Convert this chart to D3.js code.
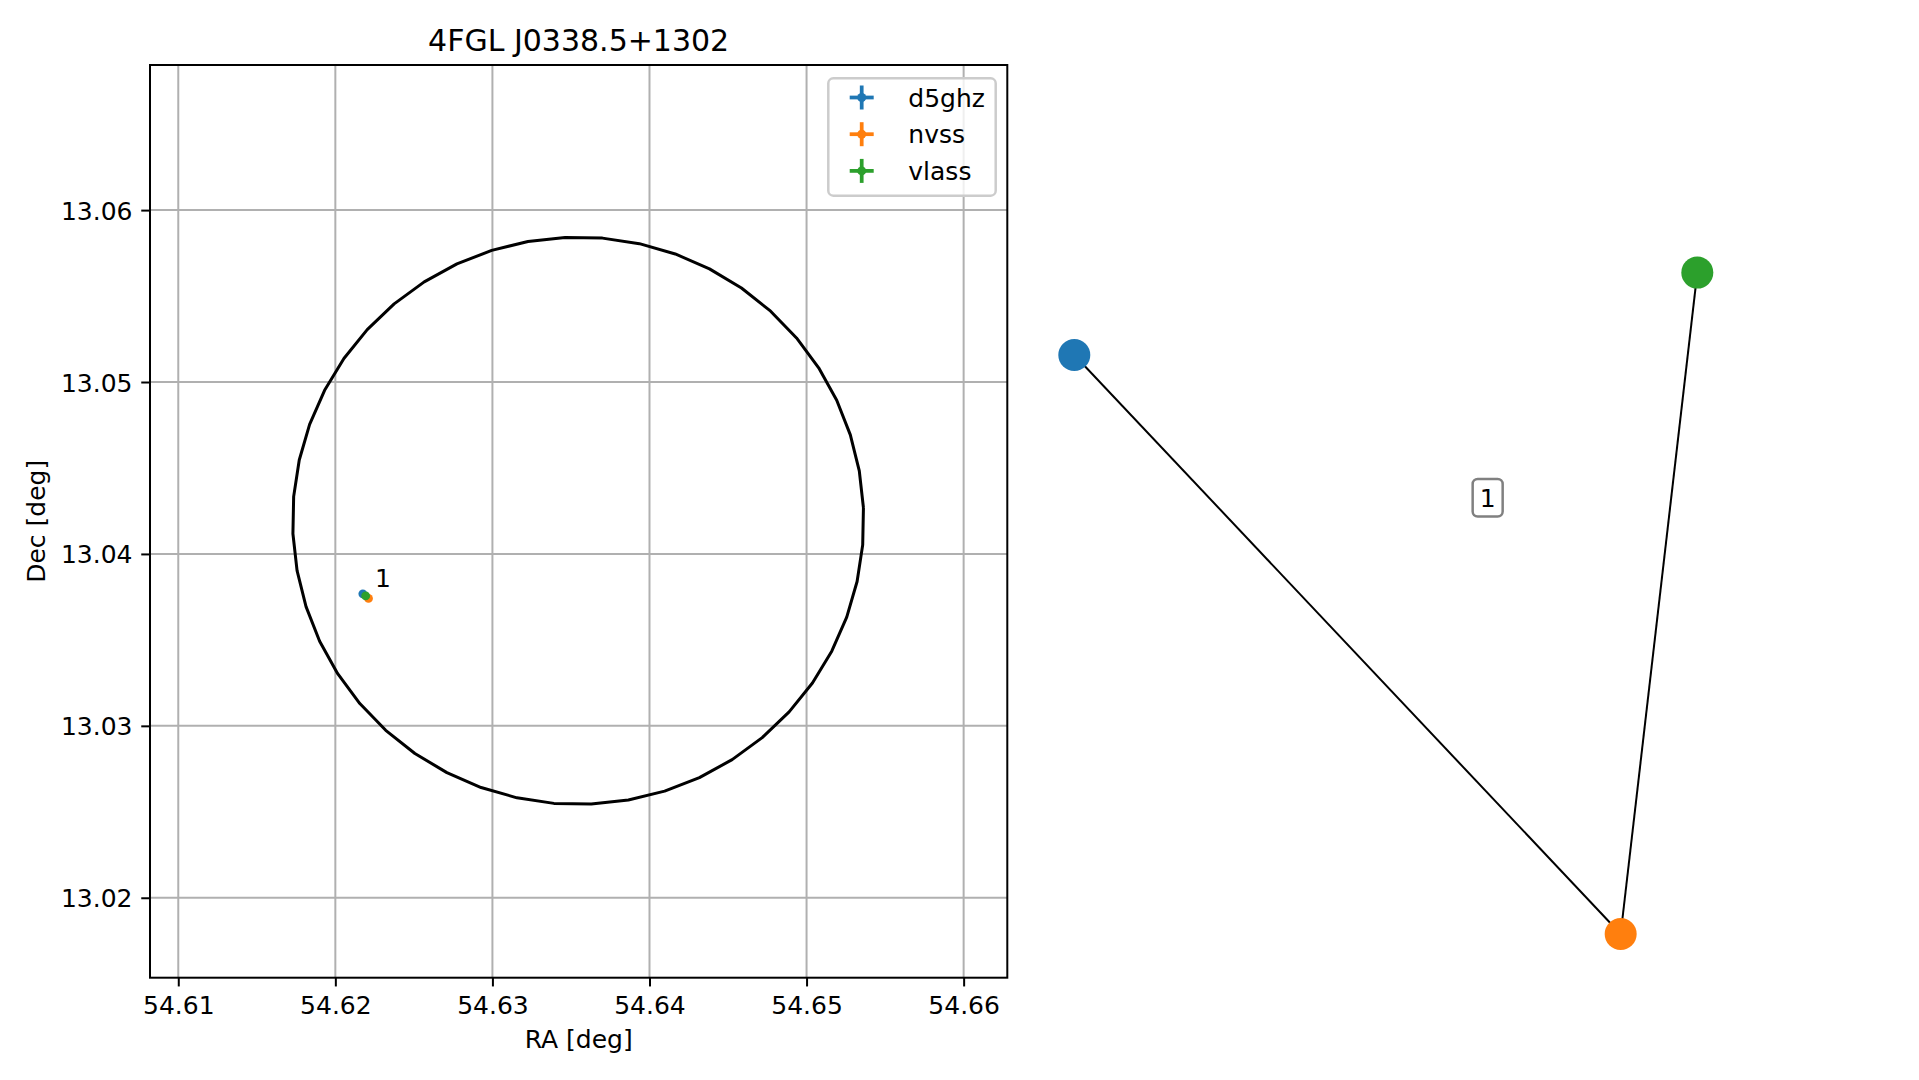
<!DOCTYPE html>
<html>
<head>
<meta charset="utf-8">
<script src="https://cdn.jsdelivr.net/npm/d3@7"></script>
<style>
  html, body { margin: 0; padding: 0; background: #fff; }
  svg { display: block; font-family: "DejaVu Sans", sans-serif; }
</style>
</head>
<body>
<svg id="chart" width="1919" height="1080"></svg>
<script>
// ---------------- DATA ----------------
const title = "4FGL J0338.5+1302";
const xTicks = [54.61, 54.62, 54.63, 54.64, 54.65, 54.66];
const yTicks = [13.02, 13.03, 13.04, 13.05, 13.06];
const xDomain = [54.6082, 54.66278];
const yDomain = [13.01535, 13.06844];

const surveys = ["d5ghz", "nvss", "vlass"];
const surveyColors = ["#1f77b4", "#ff7f0e", "#2ca02c"];
const pointRA = [54.62175, 54.62211, 54.62193];
const pointDec = [13.03768, 13.03741, 13.03756];

const matchLabel = "1";
const matchLabelPos = [54.62252, 13.03810];

// 4FGL ellipse: centre, semi-axes (deg), number of polygon segments
const ellipseCenter = [54.63546, 13.04193];
const ellipseAxes = [0.01818, 0.01650];
const ellipseSegments = 48;

// network graph (layout coordinates)
const nodeNames = ["d5ghz", "nvss", "vlass"];
const nodeX = [-1.0, 0.754, 1.0];
const nodeY = [0.751, -1.0, 1.0];
const edges = [["d5ghz", "nvss"], ["nvss", "vlass"]];
const graphLabel = "1";
const graphLabelPos = [0.327, 0.319];

// ---------------- LAYOUT ----------------
const svg = d3.select("#chart");
const ax = { left: 150, right: 1007.3, top: 65, bottom: 977.7 };
const x = d3.scaleLinear().domain(xDomain).range([ax.left, ax.right]);
const y = d3.scaleLinear().domain(yDomain).range([ax.bottom, ax.top]);

const gridColor = "#b0b0b0";

// grid
const grid = svg.append("g");
grid.selectAll("line.gx").data(xTicks).join("line")
  .attr("x1", d => x(d)).attr("x2", d => x(d))
  .attr("y1", ax.top).attr("y2", ax.bottom)
  .attr("stroke", gridColor).attr("stroke-width", 2);
grid.selectAll("line.gy").data(yTicks).join("line")
  .attr("y1", d => y(d)).attr("y2", d => y(d))
  .attr("x1", ax.left).attr("x2", ax.right)
  .attr("stroke", gridColor).attr("stroke-width", 2);

// ellipse
const step = 2 * Math.PI / ellipseSegments;
const ellPts = d3.range(ellipseSegments + 1).map(i => {
  const t = (i + 0.35) * step;
  return [ellipseCenter[0] + ellipseAxes[0] * Math.cos(t),
          ellipseCenter[1] + ellipseAxes[1] * Math.sin(t)];
});
svg.append("path")
  .attr("d", d3.line().x(d => x(d[0])).y(d => y(d[1]))(ellPts))
  .attr("fill", "none").attr("stroke", "#000").attr("stroke-width", 3)
  .attr("stroke-linejoin", "round");

// points
svg.append("g").selectAll("circle").data(surveys).join("circle")
  .attr("cx", (d, i) => x(pointRA[i]))
  .attr("cy", (d, i) => y(pointDec[i]))
  .attr("r", 4.4)
  .attr("fill", (d, i) => surveyColors[i]);

// label "1"
svg.append("text")
  .attr("x", x(matchLabelPos[0])).attr("y", y(matchLabelPos[1]))
  .attr("font-size", 25).attr("fill", "#000")
  .text(matchLabel);

// axes frame
svg.append("rect")
  .attr("x", ax.left).attr("y", ax.top)
  .attr("width", ax.right - ax.left).attr("height", ax.bottom - ax.top)
  .attr("fill", "none").attr("stroke", "#000").attr("stroke-width", 2);

// x axis
const xAxis = d3.axisBottom(x).tickValues(xTicks).tickFormat(d3.format(".2f"))
  .tickSize(8.75).tickPadding(0);
const gx = svg.append("g").attr("transform", `translate(0,${ax.bottom})`).call(xAxis);
gx.select(".domain").remove();
gx.selectAll(".tick line").attr("stroke", "#000").attr("stroke-width", 2);
gx.selectAll(".tick text").attr("font-size", 25).attr("fill", "#000")
  .attr("font-family", "DejaVu Sans").attr("dy", null).attr("y", 36);

// y axis
const yAxis = d3.axisLeft(y).tickValues(yTicks).tickFormat(d3.format(".2f"))
  .tickSize(8.75).tickPadding(8.75);
const gy = svg.append("g").attr("transform", `translate(${ax.left},0)`).call(yAxis);
gy.select(".domain").remove();
gy.selectAll(".tick line").attr("stroke", "#000").attr("stroke-width", 2);
gy.selectAll(".tick text").attr("font-size", 25).attr("fill", "#000")
  .attr("font-family", "DejaVu Sans").attr("dy", null).attr("y", 9);

// axis labels & title
svg.append("text").attr("x", (ax.left + ax.right) / 2).attr("y", 1048)
  .attr("text-anchor", "middle").attr("font-size", 25).text("RA [deg]");
svg.append("text")
  .attr("transform", `translate(45,${(ax.top + ax.bottom) / 2}) rotate(-90)`)
  .attr("text-anchor", "middle").attr("font-size", 25).text("Dec [deg]");
svg.append("text").attr("x", (ax.left + ax.right) / 2).attr("y", 51)
  .attr("text-anchor", "middle").attr("font-size", 30).text(title);

// legend
const lg = svg.append("g");
lg.append("rect")
  .attr("x", 828.3).attr("y", 78.3).attr("width", 167.4).attr("height", 117.4)
  .attr("rx", 5).attr("ry", 5)
  .attr("fill", "#fff").attr("fill-opacity", 0.8)
  .attr("stroke", "#cccccc").attr("stroke-width", 2.5);
const rowY = [97.5, 134.2, 170.9];
surveys.forEach((s, i) => {
  const cx = 861.7, cy = rowY[i];
  lg.append("line").attr("x1", cx - 12).attr("x2", cx + 12).attr("y1", cy).attr("y2", cy)
    .attr("stroke", surveyColors[i]).attr("stroke-width", 3.75);
  lg.append("line").attr("x1", cx).attr("x2", cx).attr("y1", cy - 12).attr("y2", cy + 12)
    .attr("stroke", surveyColors[i]).attr("stroke-width", 3.75);
  lg.append("circle").attr("cx", cx).attr("cy", cy).attr("r", 4.5).attr("fill", surveyColors[i]);
  lg.append("text").attr("x", 908.3).attr("y", cy + 9).attr("font-size", 25).text(s);
});

// ---------------- NETWORK PANEL ----------------
const gxS = d3.scaleLinear().domain([-1, 1]).range([1074.3, 1697.3]);
const gyS = d3.scaleLinear().domain([-1, 1]).range([934, 272.6]);
const nodeIndex = name => nodeNames.indexOf(name);
const net = svg.append("g");
net.selectAll("line").data(edges).join("line")
  .attr("x1", d => gxS(nodeX[nodeIndex(d[0])]))
  .attr("y1", d => gyS(nodeY[nodeIndex(d[0])]))
  .attr("x2", d => gxS(nodeX[nodeIndex(d[1])]))
  .attr("y2", d => gyS(nodeY[nodeIndex(d[1])]))
  .attr("stroke", "#000").attr("stroke-width", 2);
net.selectAll("circle").data(nodeNames).join("circle")
  .attr("cx", (d, i) => gxS(nodeX[i]))
  .attr("cy", (d, i) => gyS(nodeY[i]))
  .attr("r", 16)
  .attr("fill", (d, i) => surveyColors[i]);

const lx = gxS(graphLabelPos[0]), ly = gyS(graphLabelPos[1]);
net.append("rect")
  .attr("x", lx - 15).attr("y", ly - 18.8).attr("width", 30).attr("height", 37.6)
  .attr("rx", 5).attr("ry", 5)
  .attr("fill", "#fff").attr("stroke", "#808080").attr("stroke-width", 2.5);
net.append("text").attr("x", lx).attr("y", ly + 9)
  .attr("text-anchor", "middle").attr("font-size", 25).text(graphLabel);
</script>
</body>
</html>
